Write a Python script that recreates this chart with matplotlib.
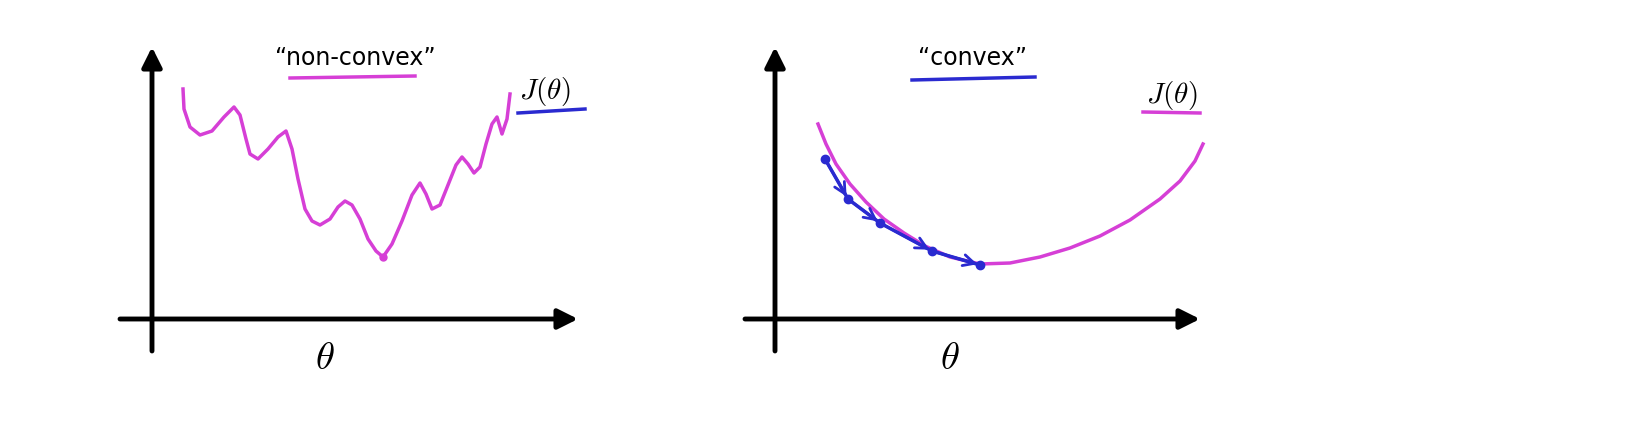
import numpy as np
import matplotlib.pyplot as plt
plt.rcParams['mathtext.fontset'] = 'cm'

# hand-drawn shapes, in picture pixel coordinates (y grows downwards)
nonconvex_x = [183, 184, 190, 200, 212, 224, 234, 240, 246, 250, 258, 268, 278, 286, 292, 298, 305, 312, 320, 330,
               338, 345, 352, 360, 368, 376, 383, 392, 402, 412, 420, 426, 432, 440, 448, 456, 462, 468, 474, 480,
               486, 492, 497, 502, 507, 510]
nonconvex_y = [90, 110, 128, 136, 132, 118, 108, 116, 140, 155, 160, 150, 138, 132, 150, 180, 210, 222, 226, 220,
               208, 202, 206, 220, 240, 252, 258, 245, 222, 196, 184, 195, 210, 206, 186, 166, 158, 165, 174, 168,
               145, 125, 118, 135, 120, 95]
convex_x = [818, 826, 836, 850, 866, 884, 904, 925, 950, 980, 1010, 1040, 1070, 1100, 1130, 1160, 1180, 1195, 1203]
convex_y = [125, 145, 165, 185, 203, 220, 234, 247, 258, 265, 264, 258, 249, 237, 221, 200, 182, 162, 145]
steps_x = [825, 848, 880, 932, 980]
steps_y = [160, 200, 224, 252, 266]

pink = '#d63fd6'
blue = '#2a2ad0'

fig = plt.figure(figsize=(16.28, 4.27), dpi=100)
ax = fig.add_axes([0, 0, 1, 1])
ax.set_xlim(0, 1628)
ax.set_ylim(427, 0)
ax.axis('off')

arrow = dict(arrowstyle='-|>,head_length=1.2,head_width=0.6', color='k', lw=3.5, shrinkA=0, shrinkB=0)
for x0, x1, x2 in [(152, 120, 578), (775, 745, 1200)]:
    ax.annotate('', xy=(x0, 48), xytext=(x0, 352), arrowprops=arrow)
    ax.annotate('', xy=(x2, 320), xytext=(x1, 320), arrowprops=arrow)

ax.plot(nonconvex_x, nonconvex_y, color=pink, lw=2.5)
ax.plot(383, 258, 'o', color=pink, ms=5)
ax.plot(convex_x, convex_y, color=pink, lw=2.5)
ax.plot(steps_x, steps_y, color=blue, lw=2.5)
ax.plot(steps_x, steps_y, 'o', color=blue, ms=6)
for i in range(len(steps_x) - 1):
    ax.annotate('', xy=(steps_x[i + 1], steps_y[i + 1]), xytext=(steps_x[i], steps_y[i]),
                arrowprops=dict(arrowstyle='->,head_length=0.8,head_width=0.4', color=blue, lw=2))

ax.text(325, 358, r'$\theta$', fontsize=28, ha='center', va='center')
ax.text(950, 358, r'$\theta$', fontsize=28, ha='center', va='center')
ax.text(355, 58, '\u201cnon-convex\u201d', fontsize=17, ha='center', va='center')
ax.text(972, 58, '\u201cconvex\u201d', fontsize=17, ha='center', va='center')
ax.text(545, 92, r'$J(\theta)$', fontsize=21, ha='center', va='center')
ax.text(1172, 95, r'$J(\theta)$', fontsize=21, ha='center', va='center')
ax.plot([290, 415], [79, 77], color=pink, lw=2.5)
ax.plot([912, 1035], [81, 78], color=blue, lw=2.5)
ax.plot([518, 585], [114, 110], color=blue, lw=2.5)
ax.plot([1143, 1200], [113, 114], color=pink, lw=2.5)

fig.savefig('out.png', dpi=100)
